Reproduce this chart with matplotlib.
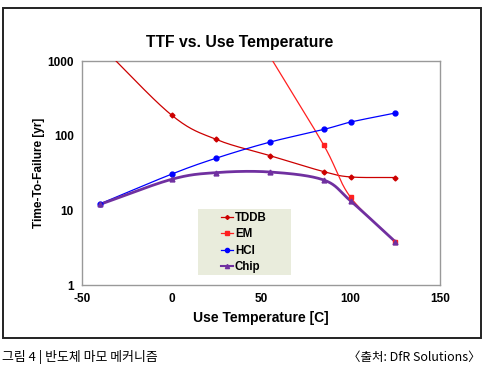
import numpy as np
import matplotlib
matplotlib.use("Agg")
import matplotlib.pyplot as plt
from matplotlib.patches import Rectangle

temps = [-40, 0, 25, 55, 85, 100, 125]
tddb = [1650, 189, 89, 54, 33, 28, 27.5]
em_temps = [25, 55, 85, 100, 125]
em = [17000, 1150, 75, 15, 3.8]
hci = [12.2, 30.5, 50, 82, 121, 152, 201]
chip = [12.0, 26, 32, 32.6, 25.5, 13.4, 3.8]

title = "TTF vs. Use Temperature"
xlabel = "Use Temperature [C]"
ylabel = "Time-To-Failure [yr]"
xticks = [-50, 0, 50, 100, 150]
yticks = [1, 10, 100, 1000]
caption_left = "그림 4 | 반도체 마모 메커니즘"
caption_right = "〈출처: DfR Solutions〉"


def smooth(xs, ys, n=40):
    x = np.asarray(xs, float)
    y = np.log10(np.asarray(ys, float))
    P = np.column_stack([x, y])
    pts = np.vstack([2 * P[0] - P[1], P, 2 * P[-1] - P[-2]])
    out = []
    for i in range(1, len(pts) - 2):
        p0, p1, p2, p3 = pts[i - 1], pts[i], pts[i + 1], pts[i + 2]
        t = np.linspace(0, 1, n)[:, None]
        seg = 0.5 * ((2 * p1) + (-p0 + p2) * t + (2 * p0 - 5 * p1 + 4 * p2 - p3) * t ** 2
                     + (-p0 + 3 * p1 - 3 * p2 + p3) * t ** 3)
        out.append(seg)
    out = np.vstack(out)
    return out[:, 0], 10 ** out[:, 1]


W, H = 504, 377
plt.rcParams['font.family'] = ['Liberation Sans', 'DejaVu Sans']
fig = plt.figure(figsize=(W / 100, H / 100), dpi=100)

# outer frame
fig.patches.append(Rectangle((3 / W, 1 - 338 / H), 478 / W, 330 / H,
                             transform=fig.transFigure, fill=False,
                             edgecolor='#222222', linewidth=1.4))

ax = fig.add_axes([82 / W, 1 - 285 / H, 358 / W, 224 / H])
ax.set_yscale('log')
ax.set_xlim(-50, 150)
ax.set_ylim(1, 1000)

series = [
    ("TDDB", temps, tddb, '#cc0000', 'D', 2.5, 0.9),
    ("EM", em_temps, em, '#ff2020', 's', 3, 0.9),
    ("HCI", temps, hci, '#0000ff', 'o', 3.5, 0.9),
    ("Chip", temps, chip, '#7030a0', '^', 3.5, 2.0),
]
handles = []
for name, xs, ys, c, m, ms, lw in series:
    sx, sy = smooth(xs, ys)
    ax.plot(sx, sy, color=c, lw=lw, zorder=3)
    ax.plot(xs, ys, ls='none', marker=m, ms=ms, color=c, zorder=4)
    h, = ax.plot([], [], color=c, lw=min(lw, 1.5), marker=m, ms=ms - 0.5)
    handles.append(h)

ax.set_xticks(xticks)
ax.set_xticklabels([str(v) for v in xticks], fontsize=8.5, fontweight='bold')
ax.set_yticks(yticks)
ax.set_yticklabels([str(v) for v in yticks], fontsize=8.5, fontweight='bold')
ax.minorticks_off()
ax.tick_params(length=0, pad=6)
for s in ax.spines.values():
    s.set_color('#999999')
    s.set_linewidth(1.0)

ax.set_xlabel(xlabel, fontsize=10, fontweight='bold', labelpad=4)
ax.set_ylabel(ylabel, fontsize=8.6, fontweight='bold', labelpad=1.5)
fig.text(240 / W, 1 - 43 / H, title, ha='center', va='center',
         fontsize=11.3, fontweight='bold')

# legend background box
fig.patches.append(Rectangle((198 / W, 1 - 275 / H), 93 / W, 66 / H,
                             transform=fig.transFigure, facecolor='#e9ecdc',
                             edgecolor='none', zorder=5))
leg = fig.legend(handles, [s[0] for s in series], loc='upper left',
                 bbox_to_anchor=(221 / W, 1 - 212 / H),
                 frameon=False, prop={'weight': 'bold', 'size': 8.3},
                 handlelength=1.0, handletextpad=0.2, labelspacing=0.38,
                 borderpad=0, borderaxespad=0)
leg.set_zorder(6)

cfont = ['Noto Sans CJK KR', 'DejaVu Sans']
fig.text(2 / W, 1 - 357 / H, caption_left, ha='left', va='center',
         fontsize=9.3, family=cfont)
fig.text(481 / W, 1 - 357 / H, caption_right, ha='right', va='center',
         fontsize=9.0, family=cfont)

fig.savefig("out.png", dpi=100)
